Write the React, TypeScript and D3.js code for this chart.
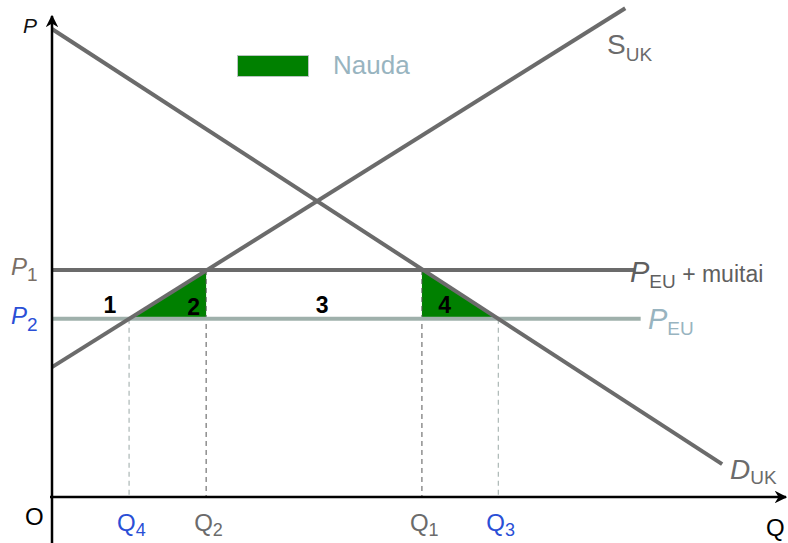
import React from "react";
import * as d3 from "d3";

// axis units: quantity 0..100, price 0..100
const demandLine: [number, number][] = [[0, 96.9], [91.3, 6.8]];
const supplyLine: [number, number][] = [[0, 26.9], [78.1, 101.2]];
const priceLevels = { p1: 47.0, p2: 36.9 };
const qTicks = [
  { key: "Q4", q: 10.5, sub: "4", color: "#2a4fd6" },
  { key: "Q2", q: 21.0, sub: "2", color: "#6b6b6b" },
  { key: "Q1", q: 50.4, sub: "1", color: "#6b6b6b" },
  { key: "Q3", q: 60.8, sub: "3", color: "#2a4fd6" },
];
const areaLabels = [
  { text: "1", q: 7.9, p: 38.1 },
  { text: "2", q: 19.3, p: 37.7 },
  { text: "3", q: 36.8, p: 38.1 },
  { text: "4", q: 53.5, p: 38.1 },
];
const legendLabel = "Nauda";

const W = 788;
const H = 543;

const x = d3.scaleLinear().domain([0, 100]).range([52, 786]);
const y = d3.scaleLinear().domain([0, 100]).range([497, 14]);

const line = d3
  .line<[number, number]>()
  .x((d) => x(d[0]))
  .y((d) => y(d[1]));

export default function App() {
  const { p1, p2 } = priceLevels;
  const [q4, q2, q1, q3] = qTicks.map((t) => t.q);

  const tri2: [number, number][] = [[q4, p2], [q2, p1], [q2, p2]];
  const tri4: [number, number][] = [[q1, p1], [q3, p2], [q1, p2]];

  const font = "Liberation Sans, Arial, sans-serif";
  const gray = "#6b6b6b";
  const paleLine = "#9fb0ab";
  const paleText = "#98b4c0";

  return (
    <svg
      width={W}
      height={H}
      style={{ position: "absolute", left: 0, top: 0, background: "#fff" }}
      fontFamily={font}
    >
      <defs>
        <marker id="arr" viewBox="0 0 10 10" refX="9" refY="5" markerWidth="5" markerHeight="5" orient="auto">
          <path d="M0,0 L10,5 L0,10 L3,5 Z" fill="#000" />
        </marker>
      </defs>

      {/* green areas */}
      <path d={line(tri2) + "Z"} fill="#008000" />
      <path d={line(tri4) + "Z"} fill="#008000" />

      {/* dashed guides */}
      {qTicks.map((t) => (
        <line
          key={t.key}
          x1={x(t.q)}
          x2={x(t.q)}
          y1={y(t.q === q2 || t.q === q1 ? p1 : p2)}
          y2={y(0)}
          stroke={t.color === gray ? "#555" : "#9aa8a6"}
          strokeWidth={1}
          strokeDasharray="5,4"
        />
      ))}

      {/* price lines */}
      <line x1={x(0)} x2={x(79.5)} y1={y(p1)} y2={y(p1)} stroke={gray} strokeWidth={4} />
      <line x1={x(0)} x2={x(80.2)} y1={y(p2)} y2={y(p2)} stroke={paleLine} strokeWidth={4} />

      {/* demand / supply */}
      <path d={line(demandLine)!} stroke={gray} strokeWidth={4} fill="none" />
      <path d={line(supplyLine)!} stroke={gray} strokeWidth={4} fill="none" />

      {/* axes */}
      <line x1={x(0)} x2={x(0)} y1={H} y2={y(100) + 2} stroke="#000" strokeWidth={2.5} markerEnd="url(#arr)" />
      <line x1={x(0) - 2} x2={W - 2} y1={y(0)} y2={y(0)} stroke="#000" strokeWidth={2.5} markerEnd="url(#arr)" />

      <text x={23} y={33} fontSize={21} fontStyle="italic" fill="#111">P</text>
      <text x={25} y={525} fontSize={24} fill="#000">O</text>
      <text x={766} y={536} fontSize={24} fill="#000">Q</text>

      {/* price labels */}
      <text x={11} y={y(p1) + 5} fontSize={24} fill="#7a6f66">
        <tspan fontStyle="italic">P</tspan>
        <tspan fontSize={19} dy={6}>1</tspan>
      </text>
      <text x={11} y={y(p2) + 5} fontSize={24} fill="#2a4fd6">
        <tspan fontStyle="italic">P</tspan>
        <tspan fontSize={19} dy={7}>2</tspan>
      </text>

      {/* quantity labels */}
      {qTicks.map((t) => (
        <text key={t.key} x={x(t.q) - 12} y={531} fontSize={24} fill={t.color}>
          <tspan>Q</tspan>
          <tspan fontSize={18} dy={5}>{t.sub}</tspan>
        </text>
      ))}

      {/* area numbers */}
      {areaLabels.map((a) => (
        <text key={a.text} x={x(a.q)} y={y(a.p)} fontSize={23} fontWeight="bold" fill="#000" textAnchor="middle">
          {a.text}
        </text>
      ))}

      {/* curve labels */}
      <text x={607} y={54} fontSize={28} fill={gray}>
        <tspan>S</tspan>
        <tspan fontSize={19} dy={7}>UK</tspan>
      </text>
      <text x={730} y={479} fontSize={28} fill={gray}>
        <tspan fontStyle="italic">D</tspan>
        <tspan fontSize={19} dy={5}>UK</tspan>
      </text>
      <text x={630} y={282} fontSize={29} fill="#5f5f5f">
        <tspan fontStyle="italic">P</tspan>
        <tspan fontSize={19} dy={6}>EU</tspan>
        <tspan fontSize={23} dy={-6}> + muitai</tspan>
      </text>
      <text x={648} y={329} fontSize={29} fill={paleText}>
        <tspan fontStyle="italic">P</tspan>
        <tspan fontSize={19} dy={6}>EU</tspan>
      </text>

      {/* legend */}
      <rect x={237.5} y={55.5} width={71} height={21} fill="#008000" stroke="#b8c4c0" strokeWidth={1} />
      <text x={333} y={74} fontSize={26} fill={paleText}>{legendLabel}</text>
    </svg>
  );
}
